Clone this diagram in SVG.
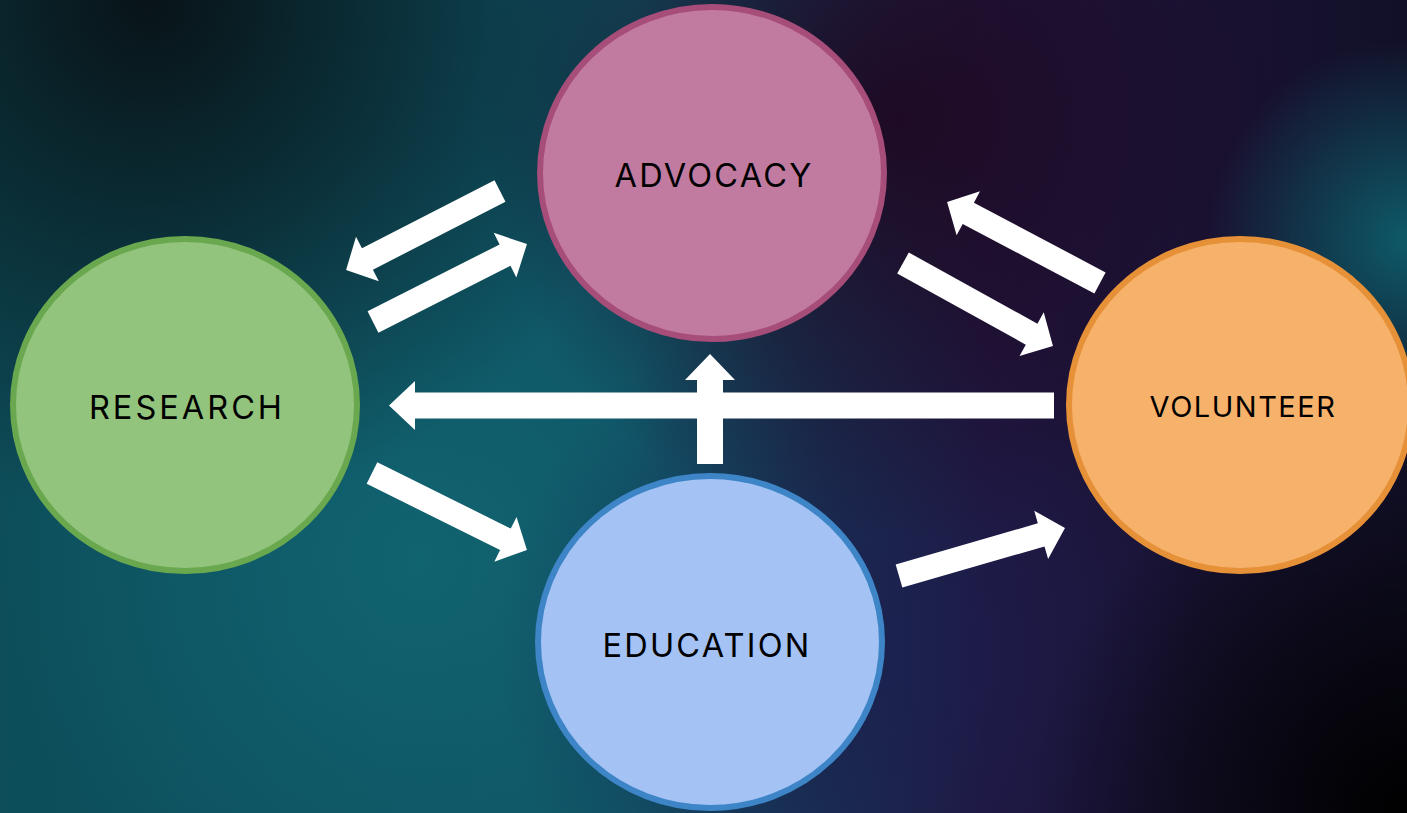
<svg xmlns="http://www.w3.org/2000/svg" width="1407" height="813" viewBox="0 0 1407 813">
<defs>
<linearGradient id="bg" x1="0" y1="0" x2="1" y2="0">
<stop offset="0" stop-color="#0d4e5a"/>
<stop offset="0.45" stop-color="#0f5466"/>
<stop offset="0.7" stop-color="#201640"/>
<stop offset="1" stop-color="#121028"/>
</linearGradient>
<radialGradient id="tl" cx="150" cy="0" r="520" gradientUnits="userSpaceOnUse">
<stop offset="0" stop-color="#081014" stop-opacity="0.95"/>
<stop offset="1" stop-color="#081014" stop-opacity="0"/>
</radialGradient>
<radialGradient id="pu" cx="900" cy="120" r="420" gradientUnits="userSpaceOnUse">
<stop offset="0" stop-color="#1e0a24" stop-opacity="1"/>
<stop offset="1" stop-color="#1e0a24" stop-opacity="0"/>
</radialGradient>
<radialGradient id="rt" cx="1407" cy="240" r="200" gradientUnits="userSpaceOnUse">
<stop offset="0" stop-color="#0e5a68" stop-opacity="1"/>
<stop offset="1" stop-color="#0e5a68" stop-opacity="0"/>
</radialGradient>
<radialGradient id="br" cx="1407" cy="813" r="380" gradientUnits="userSpaceOnUse">
<stop offset="0" stop-color="#000000" stop-opacity="1"/>
<stop offset="1" stop-color="#000000" stop-opacity="0"/>
</radialGradient>
<radialGradient id="bt" cx="420" cy="560" r="420" gradientUnits="userSpaceOnUse">
<stop offset="0" stop-color="#116572" stop-opacity="0.9"/>
<stop offset="1" stop-color="#116572" stop-opacity="0"/>
</radialGradient>
<radialGradient id="nv" cx="850" cy="650" r="350" gradientUnits="userSpaceOnUse">
<stop offset="0" stop-color="#1b2050" stop-opacity="0.8"/>
<stop offset="1" stop-color="#1b2050" stop-opacity="0"/>
</radialGradient>
<style>
.arrow{fill:#ffffff;}
.lbl{font-family:Inter,"Liberation Sans",sans-serif;font-size:32.5px;letter-spacing:2.2px;fill:#000000;text-anchor:middle;}
</style>
</defs>
<g id="background">
<rect width="1407" height="813" fill="url(#bg)"/>
<rect width="1407" height="813" fill="url(#bt)"/>
<rect width="1407" height="813" fill="url(#nv)"/>
<rect width="1407" height="813" fill="url(#pu)"/>
<rect width="1407" height="813" fill="url(#tl)"/>
<rect width="1407" height="813" fill="url(#rt)"/>
<rect width="1407" height="813" fill="url(#br)"/>
</g>
<g id="connectors">
<polygon class="arrow" transform="translate(500,191) rotate(152.84)" points="0,-12 149,-12 149,-25 173,0 149,25 149,12 0,12"/>
<polygon class="arrow" transform="translate(373,322) rotate(-26.86)" points="0,-12 148,-12 148,-25 172.6,0 148,25 148,12 0,12"/>
<polygon class="arrow" transform="translate(1100,283) rotate(-152.1)" points="0,-12 149,-12 149,-25 173,0 149,25 149,12 0,12"/>
<polygon class="arrow" transform="translate(903,263) rotate(28.96)" points="0,-12 147,-12 147,-25 171.4,0 147,25 147,12 0,12"/>
<polygon class="arrow" points="1054,392.5 415,392.5 415,381 389,405.5 415,430 415,418.5 1054,418.5"/>
<polygon class="arrow" points="697,464 697,380 685,380 710,354 735,380 723,380 723,464"/>
<polygon class="arrow" transform="translate(372,473) rotate(26.42)" points="0,-12 149,-12 149,-25 173,0 149,25 149,12 0,12"/>
<polygon class="arrow" transform="translate(899,576) rotate(-16.13)" points="0,-12 148,-12 148,-25 172.8,0 148,25 148,12 0,12"/>
</g>
<g id="advocacy">
<ellipse cx="712" cy="173" rx="172" ry="166" fill="#c27ba0" stroke="#a64d79" stroke-width="6"/>
<text class="lbl" x="714" y="187">ADVOCACY</text>
</g>
<g id="research">
<ellipse cx="185" cy="405" rx="172" ry="166" fill="#93c47d" stroke="#6aa84f" stroke-width="6"/>
<text class="lbl" x="187" y="419" style="letter-spacing:3px">RESEARCH</text>
</g>
<g id="volunteer">
<ellipse cx="1240" cy="405" rx="171" ry="166" fill="#f6b26b" stroke="#e69138" stroke-width="6"/>
<text class="lbl" x="1243" y="417" style="font-size:29px;letter-spacing:1.5px">VOLUNTEER</text>
</g>
<g id="education">
<ellipse cx="710" cy="642" rx="172" ry="166" fill="#a4c2f4" stroke="#3d85c6" stroke-width="6"/>
<text class="lbl" x="707" y="657">EDUCATION</text>
</g>
</svg>
